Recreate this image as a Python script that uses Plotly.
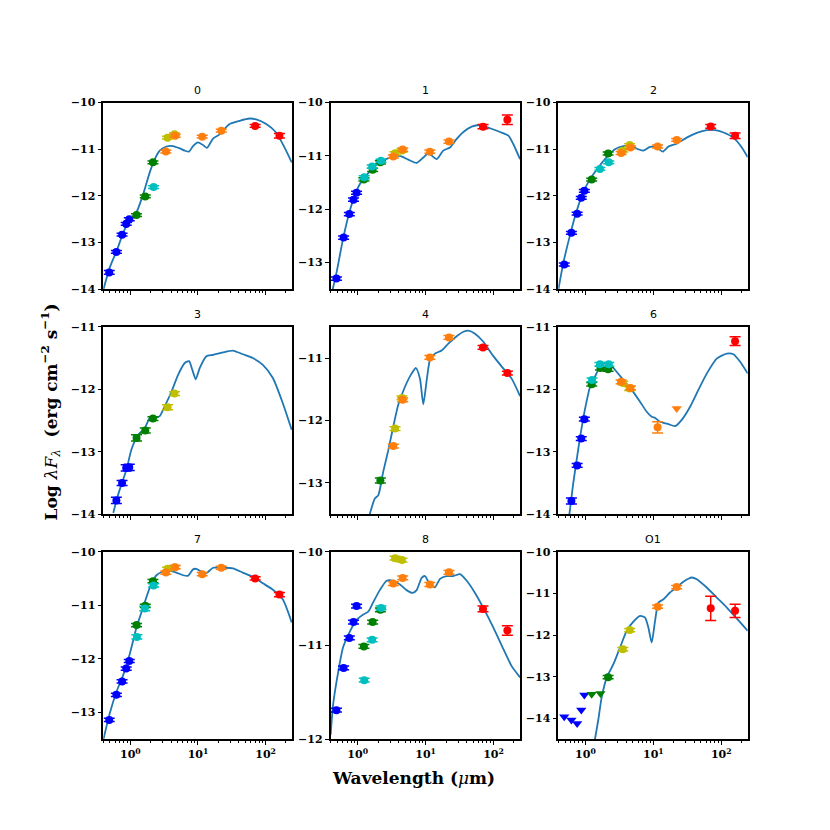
import plotly.graph_objects as go

# ---------------- data ----------------
panel_names = ["0", "1", "2", "3", "4", "6", "7", "8", "O1"]

# filter central wavelengths (micron)
filter_wl = {"g": 0.487, "r": 0.621, "i": 0.754, "z": 0.868, "y": 0.963,
             "J": 1.235, "H": 1.662, "Ks": 2.159,
             "UJ": 1.25, "UH": 1.635, "UK": 2.206,
             "W1": 3.35, "W2": 4.60, "W3": 11.56, "W4": 22.09,
             "I1": 3.55, "I2": 4.49,
             "P70": 70.0, "P160": 160.0}
filter_instrument = {"g": "PS1", "r": "PS1", "i": "PS1", "z": "PS1", "y": "PS1",
                     "J": "2MASS", "H": "2MASS", "Ks": "2MASS",
                     "UJ": "UKIDSS", "UH": "UKIDSS", "UK": "UKIDSS",
                     "W1": "WISE", "W2": "WISE", "W3": "WISE", "W4": "WISE",
                     "I1": "IRAC", "I2": "IRAC", "P70": "PACS", "P160": "PACS"}

bands_0 = ["g", "r", "i", "z", "y", "J", "H", "Ks", "UK", "W1", "I1", "I2", "W2", "W3", "W4", "P70", "P160"]
flux_0 = [-13.64, -13.20, -12.83, -12.60, -12.50, -12.41, -12.01, -11.28, -11.81, -11.05, -10.75, -10.68, -10.71, -10.73, -10.60, -10.50, -10.71]
err_0 = [0.04, 0.03, 0.03, 0.03, 0.03, 0.03, 0.03, 0.03, 0.03, 0.03, 0.03, 0.03, 0.03, 0.03, 0.03, 0.03, 0.05]
upper_0 = []

bands_1 = ["g", "r", "i", "z", "y", "J", "H", "Ks", "UJ", "UH", "UK", "W1", "I1", "I2", "W2", "W3", "W4", "P70", "P160"]
flux_1 = [-13.30, -12.53, -12.09, -11.82, -11.69, -11.44, -11.26, -11.12, -11.40, -11.20, -11.09, -11.01, -10.95, -10.90, -10.88, -10.92, -10.73, -10.45, -10.32]
err_1 = [0.03, 0.03, 0.03, 0.03, 0.03, 0.03, 0.03, 0.03, 0.03, 0.03, 0.03, 0.03, 0.03, 0.03, 0.03, 0.03, 0.03, 0.04, 0.09]
upper_1 = []

bands_2 = ["g", "r", "i", "z", "y", "J", "UH", "UK", "Ks", "W1", "I1", "I2", "W2", "W3", "W4", "P70", "P160"]
flux_2 = [-13.47, -12.79, -12.38, -12.04, -11.89, -11.65, -11.42, -11.28, -11.09, -11.08, -11.03, -10.91, -10.96, -10.94, -10.80, -10.51, -10.71]
err_2 = [0.03, 0.03, 0.03, 0.03, 0.03, 0.03, 0.03, 0.03, 0.03, 0.03, 0.03, 0.03, 0.03, 0.03, 0.03, 0.04, 0.06]
upper_2 = []

bands_3 = ["r", "i", "z", "y", "J", "H", "Ks", "I1", "I2"]
flux_3 = [-13.78, -13.50, -13.26, -13.25, -12.78, -12.66, -12.47, -12.29, -12.07]
err_3 = [0.05, 0.04, 0.05, 0.05, 0.05, 0.04, 0.03, 0.04, 0.03]
upper_3 = []

bands_4 = ["Ks", "W1", "I1", "I2", "W2", "W3", "W4", "P70", "P160"]
flux_4 = [-12.96, -12.41, -12.13, -11.64, -11.67, -10.99, -10.67, -10.83, -11.24]
err_4 = [0.04, 0.03, 0.03, 0.03, 0.03, 0.03, 0.03, 0.03, 0.03]
upper_4 = []

bands_6 = ["r", "i", "z", "y", "J", "UJ", "H", "UH", "Ks", "UK", "W1", "I1", "I2", "W2", "W3", "W4", "P160"]
flux_6 = [-13.79, -13.22, -12.79, -12.48, -11.92, -11.85, -11.66, -11.60, -11.68, -11.60, -11.88, -11.90, -11.99, -11.98, -12.61, -12.31, -11.23]
err_6 = [0.05, 0.03, 0.03, 0.03, 0.03, 0.03, 0.03, 0.03, 0.03, 0.03, 0.03, 0.03, 0.03, 0.03, 0.09, 0.0, 0.07]
upper_6 = ["W4"]

bands_7 = ["g", "r", "i", "z", "y", "J", "UJ", "H", "UH", "Ks", "UK", "W1", "I1", "I2", "W2", "W3", "W4", "P70", "P160"]
flux_7 = [-13.14, -12.67, -12.42, -12.18, -12.04, -11.37, -11.59, -11.01, -11.06, -10.55, -10.63, -10.39, -10.32, -10.29, -10.29, -10.42, -10.30, -10.50, -10.80]
err_7 = [0.03, 0.03, 0.03, 0.03, 0.03, 0.03, 0.04, 0.03, 0.04, 0.03, 0.03, 0.03, 0.03, 0.03, 0.03, 0.03, 0.03, 0.03, 0.04]
upper_7 = []

bands_8 = ["g", "r", "i", "z", "y", "J", "UJ", "H", "UH", "Ks", "UK", "W1", "I1", "I2", "W2", "W3", "W4", "P70", "P160"]
flux_8 = [-11.69, -11.24, -10.92, -10.75, -10.58, -11.01, -11.37, -10.75, -10.94, -10.62, -10.60, -10.34, -10.07, -10.09, -10.28, -10.35, -10.22, -10.61, -10.84]
err_8 = [0.02, 0.02, 0.02, 0.02, 0.02, 0.02, 0.02, 0.02, 0.02, 0.02, 0.02, 0.02, 0.02, 0.02, 0.02, 0.02, 0.02, 0.03, 0.05]
upper_8 = []

bands_O1 = ["g", "r", "i", "z", "y", "J", "H", "Ks", "I1", "I2", "W3", "W4", "P70", "P160"]
flux_O1 = [-13.96, -14.04, -14.12, -13.80, -13.44, -13.42, -13.40, -13.01, -12.34, -11.88, -11.32, -10.85, -11.36, -11.42]
err_O1 = [0.0, 0.0, 0.0, 0.0, 0.0, 0.0, 0.0, 0.04, 0.04, 0.04, 0.04, 0.04, 0.29, 0.16]
upper_O1 = ["g", "r", "i", "z", "y", "J", "H"]

# model SEDs (micron, log lambda F_lambda)
model_wl_0 = [0.40, 0.50, 0.63, 0.79, 0.98, 1.23, 1.55, 1.94, 2.30, 2.72, 3.42, 4.28, 5.37, 6.37, 7.38, 8.45, 10.0, 11.9, 13.6, 16.7, 20.9, 29.3, 41.2, 57.8, 72.5, 102, 143, 190, 243]
model_flux_0 = [-14.0, -13.52, -13.17, -12.78, -12.51, -12.35, -11.96, -11.49, -11.21, -11.03, -10.94, -10.93, -10.98, -11.03, -11.05, -10.93, -10.85, -10.91, -10.97, -10.77, -10.68, -10.46, -10.39, -10.34, -10.36, -10.46, -10.64, -10.96, -11.28]

model_wl_1 = [0.42, 0.49, 0.61, 0.77, 0.96, 1.21, 1.60, 2.12, 2.98, 4.19, 5.56, 7.38, 9.25, 11.0, 14.6, 18.2, 22.9, 28.7, 36.0, 47.7, 63.3, 88.9, 125, 166, 196, 246]
model_flux_1 = [-13.55, -13.18, -12.55, -12.02, -11.65, -11.43, -11.26, -11.12, -11.03, -11.00, -11.07, -11.13, -11.03, -10.95, -11.06, -10.90, -10.84, -10.68, -10.55, -10.45, -10.42, -10.48, -10.55, -10.62, -10.78, -11.06]

model_wl_2 = [0.40, 0.47, 0.59, 0.74, 0.93, 1.17, 1.55, 2.06, 2.72, 3.61, 4.80, 6.02, 7.13, 8.93, 11.2, 13.7, 16.7, 22.1, 31.0, 43.6, 61.2, 81.3, 108, 151, 201, 246]
model_flux_2 = [-14.0, -13.45, -12.85, -12.33, -11.92, -11.64, -11.39, -11.17, -11.00, -10.93, -10.94, -11.00, -11.03, -10.95, -10.96, -11.05, -10.94, -10.88, -10.75, -10.65, -10.59, -10.59, -10.64, -10.75, -10.96, -11.17]

model_wl_3 = [0.56, 0.63, 0.74, 0.88, 1.04, 1.31, 1.64, 1.94, 2.30, 2.72, 3.23, 4.05, 5.08, 6.37, 7.38, 8.26, 9.25, 10.6, 13.3, 16.7, 23.4, 32.8, 46.1, 64.7, 91.0, 128, 179, 243]
model_flux_3 = [-13.98, -13.76, -13.52, -13.28, -12.96, -12.73, -12.62, -12.46, -12.46, -12.43, -12.27, -12.04, -11.77, -11.58, -11.55, -11.69, -11.84, -11.66, -11.47, -11.45, -11.41, -11.38, -11.44, -11.50, -11.61, -11.82, -12.22, -12.65]

model_wl_4 = [1.51, 1.79, 2.01, 2.38, 2.82, 3.34, 3.96, 4.97, 6.22, 7.21, 8.26, 9.25, 10.4, 11.6, 13.7, 17.2, 21.6, 28.7, 36.0, 42.6, 53.4, 70.9, 99.5, 140, 185, 246]
model_flux_4 = [-13.5, -13.25, -13.20, -12.82, -12.48, -12.10, -11.75, -11.46, -11.25, -11.16, -11.33, -11.74, -11.35, -11.03, -10.93, -10.88, -10.77, -10.65, -10.58, -10.56, -10.61, -10.74, -10.97, -11.17, -11.33, -11.61]

model_wl_6 = [0.58, 0.66, 0.74, 0.85, 0.98, 1.17, 1.38, 1.64, 1.94, 2.30, 2.88, 3.61, 4.80, 6.37, 7.98, 9.46, 10.6, 12.6, 16.7, 20.9, 26.2, 34.8, 46.1, 61.2, 85.9, 121, 151, 190, 246]
model_flux_6 = [-14.0, -13.51, -13.14, -12.71, -12.33, -11.96, -11.80, -11.64, -11.58, -11.60, -11.72, -11.85, -12.01, -12.20, -12.36, -12.44, -12.46, -12.52, -12.56, -12.59, -12.49, -12.28, -12.01, -11.75, -11.51, -11.43, -11.44, -11.56, -11.75]

model_wl_7 = [0.40, 0.50, 0.63, 0.79, 0.98, 1.23, 1.55, 1.94, 2.43, 3.05, 3.83, 4.80, 6.02, 7.13, 8.45, 9.46, 11.2, 13.3, 16.7, 23.4, 32.8, 46.1, 64.7, 91.0, 128, 179, 243]
model_flux_7 = [-13.5, -13.0, -12.60, -12.29, -11.91, -11.42, -11.03, -10.67, -10.44, -10.37, -10.36, -10.39, -10.44, -10.45, -10.33, -10.32, -10.37, -10.40, -10.30, -10.30, -10.31, -10.39, -10.47, -10.59, -10.71, -10.89, -11.32]

model_wl_8 = [0.40, 0.435, 0.52, 0.61, 0.77, 0.96, 1.21, 1.43, 1.69, 2.12, 2.67, 3.34, 4.19, 5.25, 6.44, 7.38, 8.75, 9.80, 11.6, 13.7, 16.3, 20.4, 25.6, 32.1, 40.3, 53.4, 70.9, 99.5, 140, 185, 246]
model_flux_8 = [-11.95, -11.63, -11.27, -11.02, -10.85, -10.73, -10.67, -10.64, -10.54, -10.41, -10.31, -10.31, -10.35, -10.41, -10.44, -10.41, -10.28, -10.26, -10.35, -10.38, -10.29, -10.26, -10.26, -10.24, -10.31, -10.44, -10.60, -10.81, -11.04, -11.22, -11.34]

model_wl_O1 = [1.38, 1.55, 1.73, 2.06, 2.58, 3.23, 4.05, 5.08, 6.37, 7.55, 8.45, 9.46, 10.6, 11.9, 14.1, 17.6, 22.1, 27.7, 32.8, 36.8, 43.6, 61.2, 85.9, 121, 169, 246]
model_flux_O1 = [-14.5, -14.02, -13.50, -13.02, -12.70, -12.30, -11.90, -11.68, -11.54, -11.58, -11.82, -12.18, -11.66, -11.22, -11.14, -10.98, -10.85, -10.72, -10.65, -10.62, -10.66, -10.86, -11.10, -11.34, -11.60, -11.90]

y_ranges = [[-14, -10], [-13.5, -10], [-14, -10],
            [-14, -11], [-13.5, -10.5], [-14, -11],
            [-13.5, -10], [-12, -10], [-14.5, -10]]

# ---------------- style ----------------
inst_colors = {"PS1": "#0000ff", "2MASS": "#008000", "UKIDSS": "#00bfbf",
               "IRAC": "#bfbf00", "WISE": "#ff7f0e", "PACS": "#ff0000"}
inst_order = ["PS1", "2MASS", "UKIDSS", "IRAC", "WISE", "PACS"]

W, H = 830, 830


def py(v):
    # target pixel row -> figure pixel row (compensates vertical squeeze seen in renders)
    return (v - 3.0) / 0.988


col_dom = [[103.3 / W, 292.0 / W], [330.5 / W, 520.0 / W], [558.3 / W, 747.7 / W]]
row_px = [[100.0, 287.3], [325.0, 513.0], [550.7, 739.0]]
row_dom = [[1 - py(b) / H, 1 - py(t) / H] for t, b in row_px]

tick_font = dict(family="DejaVu Serif", size=11, color="black", weight="bold")
minor_vals = [m * 10.0 ** e for e in (-1, 0, 1, 2) for m in range(2, 10)]

all_bands = [bands_0, bands_1, bands_2, bands_3, bands_4, bands_6, bands_7, bands_8, bands_O1]
all_flux = [flux_0, flux_1, flux_2, flux_3, flux_4, flux_6, flux_7, flux_8, flux_O1]
all_err = [err_0, err_1, err_2, err_3, err_4, err_6, err_7, err_8, err_O1]
all_upper = [upper_0, upper_1, upper_2, upper_3, upper_4, upper_6, upper_7, upper_8, upper_O1]
all_mwl = [model_wl_0, model_wl_1, model_wl_2, model_wl_3, model_wl_4, model_wl_6, model_wl_7, model_wl_8, model_wl_O1]
all_mfl = [model_flux_0, model_flux_1, model_flux_2, model_flux_3, model_flux_4, model_flux_6, model_flux_7, model_flux_8, model_flux_O1]

fig = go.Figure()
annotations = []
layout_axes = {}

for k, name in enumerate(panel_names):
    row, col = divmod(k, 3)
    n = k + 1
    sfx = "" if n == 1 else str(n)
    xa, ya = "x" + sfx, "y" + sfx

    fig.add_trace(go.Scatter(
        x=all_mwl[k], y=all_mfl[k], mode="lines",
        line=dict(color="#1f77b4", width=1.8, shape="spline", smoothing=0.6),
        xaxis=xa, yaxis=ya, showlegend=False, hoverinfo="skip"))

    bands, flux, err, upper = all_bands[k], all_flux[k], all_err[k], all_upper[k]
    for inst in inst_order:
        det = [j for j, b in enumerate(bands) if filter_instrument[b] == inst and b not in upper]
        lim = [j for j, b in enumerate(bands) if filter_instrument[b] == inst and b in upper]
        c = inst_colors[inst]
        if det:
            fig.add_trace(go.Scatter(
                x=[filter_wl[bands[j]] for j in det], y=[flux[j] for j in det],
                mode="markers", marker=dict(symbol="circle", size=8, color=c, line=dict(width=0)),
                error_y=dict(type="data", array=[err[j] for j in det], visible=True,
                             color=c, thickness=1.5, width=5.5),
                xaxis=xa, yaxis=ya, showlegend=False, cliponaxis=False))
        if lim:
            fig.add_trace(go.Scatter(
                x=[filter_wl[bands[j]] for j in lim], y=[flux[j] for j in lim],
                mode="markers", marker=dict(symbol="triangle-down", size=9, color=c, line=dict(width=0)),
                xaxis=xa, yaxis=ya, showlegend=False))

    layout_axes["xaxis" + sfx] = dict(
        type="log", range=[-0.4, 2.39], domain=col_dom[col], anchor=ya,
        showline=True, linecolor="black", linewidth=1.5, mirror=True,
        ticks="outside", ticklen=4, tickwidth=1, tickcolor="black",
        tickmode="array", tickvals=[1, 10, 100],
        ticktext=["10<sup>0</sup>", "10<sup>1</sup>", "10<sup>2</sup>"],
        showticklabels=(row == 2), tickfont=tick_font,
        minor=dict(tickmode="array", tickvals=minor_vals, ticks="outside", ticklen=2,
                   tickwidth=0.8, tickcolor="black", showgrid=False),
        showgrid=False, zeroline=False)
    layout_axes["yaxis" + sfx] = dict(
        range=y_ranges[k], domain=row_dom[row], anchor=xa,
        showline=True, linecolor="black", linewidth=1.5, mirror=True,
        ticks="outside", ticklen=4, tickwidth=1, tickcolor="black",
        tickmode="linear", tick0=0, dtick=1, tickfont=tick_font,
        showgrid=False, zeroline=False)

    annotations.append(dict(
        text=name, xref="paper", yref="paper",
        x=(col_dom[col][0] + col_dom[col][1]) / 2, y=row_dom[row][1] + 4 / H,
        xanchor="center", yanchor="bottom", showarrow=False,
        font=dict(family="DejaVu Sans", size=11, color="black")))

annotations.append(dict(
    text="<b>Wavelength (</b><i>μ</i><b>m)</b>", xref="paper", yref="paper",
    x=413 / W, y=1 - py(778) / H, xanchor="center", yanchor="middle", showarrow=False,
    font=dict(family="DejaVu Serif", size=17, color="black")))
annotations.append(dict(
    text="<b>Log </b><i>λF<sub>λ</sub></i><b>  (erg cm<sup>−2</sup> s<sup>−1</sup>)</b>",
    xref="paper", yref="paper", x=51 / W, y=1 - py(411) / H, textangle=-90,
    xanchor="center", yanchor="middle", showarrow=False,
    font=dict(family="DejaVu Serif", size=17, color="black")))

fig.update_layout(width=W, height=H, margin=dict(l=0, r=0, t=0, b=0),
                  paper_bgcolor="white", plot_bgcolor="white",
                  annotations=annotations, showlegend=False, **layout_axes)

fig.write_html("out.html", config={"displayModeBar": False},
               post_script="document.body.style.margin='0px';document.body.style.overflow='hidden';")
